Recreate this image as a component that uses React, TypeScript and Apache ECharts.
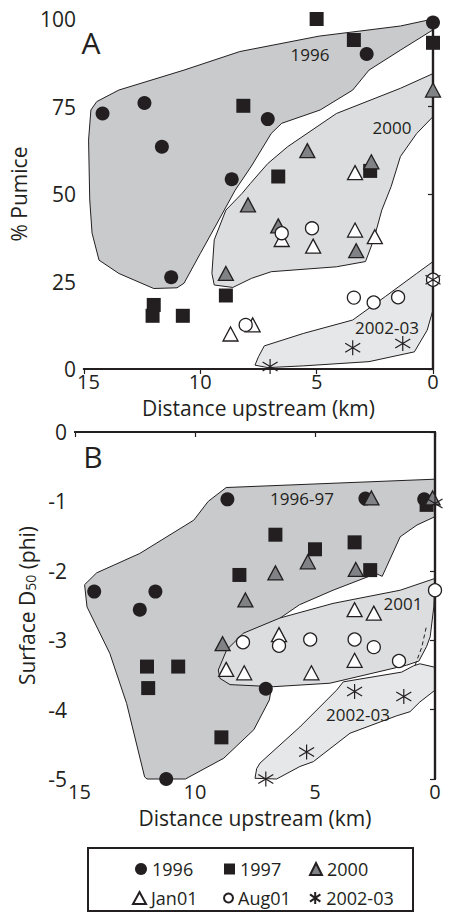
import React, { useEffect, useRef } from "react";
import * as echarts from "echarts";

const FONT = "'Open Sans', sans-serif";
const INK = "#231f20";
const DARK_FILL = "#c9cacc";
const MID_FILL = "#dcddde";
const LIGHT_FILL = "#e6e7e8";
const GRAY_TRI = "#808285";

// x ticks (km upstream), y ticks
const xTicks = [15, 10, 5, 0];
const pumiceTicks = [0, 25, 50, 75, 100];
const phiTicks = [-5, -4, -3, -2, -1, 0];

// ---------- Panel A: % pumice ----------
const a1996 = [[14.2, 73], [12.4, 76], [11.65, 63.5], [8.65, 54.2], [7.1, 71.4], [2.85, 90], [0, 99], [11.25, 26.2]];
const a1997 = [[5.0, 100], [3.4, 94], [0, 93.2], [8.15, 75.2], [6.65, 55], [2.7, 56.6], [12.0, 18.3], [12.05, 15.2], [10.75, 15.2], [8.9, 21]];
const a2000 = [[0, 79.7], [5.4, 62.4], [2.65, 59.2], [7.95, 46.9], [6.65, 40.9], [3.3, 33.8], [8.9, 27.3]];
const aJan01 = [[3.35, 56.1], [6.5, 37], [5.15, 35.1], [3.35, 39.7], [2.5, 37.8], [7.75, 12.6], [8.7, 10]];
const aAug01 = [[6.5, 38.8], [5.2, 40.2], [3.4, 20.4], [2.55, 19], [1.5, 20.5], [8.05, 12.6], [0, 25.5]];
const a2002 = [[7.0, 0.7], [3.45, 6.1], [1.3, 7.3], [0, 25.5]];

const env1996A = [[0, 100], [1.4, 98], [4.9, 95.1], [8.3, 90.7], [10.7, 85.4], [13.5, 79.7], [14.45, 76.4], [14.7, 74], [14.8, 65.4], [14.75, 48.3], [14.65, 38.8], [14.35, 31.1], [13.5, 27.3], [12.0, 23], [11.0, 23.2], [10.7, 24.5], [10.0, 33], [9.2, 42.6], [8.5, 51.1], [7.8, 58], [6.95, 67.3], [6.5, 70.2], [4.85, 74], [3.45, 79.7], [2.75, 85.4], [1.4, 91.1], [0, 96.9]];
const env2000A = [[0, 84.4], [1.4, 80.2], [4.15, 73], [6.25, 63.5], [7.1, 58.7], [7.85, 53], [8.2, 50.2], [8.9, 45.4], [9.4, 36.9], [9.5, 27.3], [9.4, 24], [8.6, 23.3], [7.8, 25.9], [6.95, 27.8], [4.15, 29.2], [2.9, 30.7], [2.55, 36.9], [2.2, 45.4], [1.8, 52.1], [1.4, 60.7], [0.7, 67.3], [0, 72.1]];
const env2002A = [[0, 30.7], [0.7, 27.3], [2.05, 20.7], [3.45, 14], [5.55, 10.2], [7.25, 6.6], [7.5, 3.5], [7.65, 1.1], [7.1, 0.4], [5.55, 0.9], [2.75, 2.1], [0.8, 4.9], [0.25, 11.1], [0, 16.9]];

// ---------- Panel B: surface D50 (phi) ----------
const b1996 = [[8.65, -0.97], [2.9, -0.96], [0.45, -0.97], [14.2, -2.3], [11.65, -2.3], [12.3, -2.56], [7.05, -3.7], [11.2, -5]];
const b1997 = [[0.35, -1.05], [6.65, -1.48], [5.0, -1.69], [3.35, -1.59], [2.7, -1.99], [8.15, -2.06], [12.0, -3.38], [10.7, -3.38], [11.95, -3.69], [8.9, -4.4]];
const b2000 = [[2.65, -0.95], [0.1, -0.95], [5.3, -1.87], [3.3, -1.98], [6.65, -2.03], [7.9, -2.42], [8.85, -3.05]];
const bJan01 = [[3.35, -2.56], [2.55, -2.61], [6.5, -2.92], [3.35, -3.29], [8.7, -3.42], [7.95, -3.47], [5.15, -3.47]];
const bAug01 = [[0, -2.28], [8.0, -3.03], [6.5, -3.08], [5.2, -2.99], [3.35, -2.99], [2.55, -3.1], [1.5, -3.3]];
const b2002 = [[0, -1.03], [3.35, -3.74], [1.3, -3.81], [5.35, -4.61], [7.05, -5]];

const env1996B = [[0, -0.68], [8.7, -0.8], [9.45, -1.0], [10.05, -1.27], [12.3, -1.75], [14.1, -2.03], [14.6, -2.2], [14.5, -2.52], [13.55, -3.19], [12.85, -3.91], [12.1, -4.97], [12.0, -5], [10.4, -5], [8.8, -4.7], [7.55, -4.29], [6.9, -3.86], [6.8, -3.65], [6.6, -3.2], [6.45, -2.68], [5.65, -2.49], [4.25, -2.28], [2.45, -2.04], [2.2, -2.08], [1.45, -1.51], [0.75, -1.34], [0, -1.22]];
const env2001B = [[0, -2.11], [1.45, -2.28], [4.25, -2.47], [6.46, -2.68], [7.99, -2.9], [8.68, -3.14], [9.03, -3.43], [8.96, -3.55], [8.54, -3.64], [6.74, -3.67], [4.38, -3.62], [1.18, -3.36], [0.67, -3.3], [0.35, -3.09], [0.2, -2.95], [0.05, -2.52]];
const dash2001B = [[0.37, -2.82], [0.55, -3.1], [0.83, -3.36]];
const env2002B = [[0, -3.39], [0.63, -3.34], [0.9, -3.37], [1.39, -3.46], [3.82, -3.6], [4.1, -3.72], [5.63, -4.25], [7.29, -4.77], [7.43, -4.85], [7.5, -4.99], [6.6, -5], [5.63, -4.82], [5.07, -4.75], [3.54, -4.34], [1.6, -4.09], [1.04, -4.03], [0.63, -3.89], [0, -3.72]];

const legendRow1 = ["1996", "1997", "2000"];
const legendRow2 = ["Jan01", "Aug01", "2002-03"];

const ASTERISK = "path://M0,-10L0,10M-8.66,-6L8.66,6M-8.66,6L8.66,-6";

function envelope(verts: number[][], fill: string, xi: number, yi: number) {
  return {
    type: "custom",
    xAxisIndex: xi,
    yAxisIndex: yi,
    data: verts,
    z: 1,
    silent: true,
    clip: false,
    renderItem: (p: any, api: any) =>
      p.dataIndex === 0
        ? {
            type: "polygon",
            shape: { points: verts.map((v) => api.coord(v)) },
            style: { fill, stroke: INK, lineWidth: 1 },
          }
        : null,
  };
}

function dashed(verts: number[][], xi: number, yi: number) {
  return {
    type: "custom",
    xAxisIndex: xi,
    yAxisIndex: yi,
    data: verts,
    z: 2,
    silent: true,
    clip: false,
    renderItem: (p: any, api: any) =>
      p.dataIndex === 0
        ? {
            type: "polyline",
            shape: { points: verts.map((v) => api.coord(v)) },
            style: { fill: "none", stroke: INK, lineWidth: 1, lineDash: [4, 3] },
          }
        : null,
  };
}

type Sty = { symbol: string; size: number | number[]; color: string; border: number };
const STY: Record<string, Sty> = {
  "1996": { symbol: "circle", size: 14, color: INK, border: 0 },
  "1997": { symbol: "rect", size: 14, color: INK, border: 0 },
  "2000": { symbol: "triangle", size: [15, 14], color: GRAY_TRI, border: 1.3 },
  Jan01: { symbol: "triangle", size: [15, 14], color: "#ffffff", border: 1.3 },
  Aug01: { symbol: "circle", size: 13, color: "#ffffff", border: 1.3 },
  "2002-03": { symbol: ASTERISK, size: 15, color: INK, border: 1.2 },
};

function pts(name: string, data: number[][], xi: number, yi: number) {
  const s = STY[name];
  return {
    type: "scatter",
    name,
    data,
    xAxisIndex: xi,
    yAxisIndex: yi,
    symbol: s.symbol,
    symbolSize: s.size,
    itemStyle: { color: s.color, borderColor: INK, borderWidth: s.border, opacity: 1 },
    z: 5,
    clip: false,
    silent: true,
  };
}

const tickLabel = { color: INK, fontSize: 20, fontFamily: FONT };
const nameStyle = { color: INK, fontSize: 21, fontFamily: FONT };

function xAxes(gridIndex: number, nameGap: number) {
  return [
    {
      gridIndex,
      type: "value",
      inverse: true,
      min: 0,
      max: 15,
      interval: 5,
      position: "bottom",
      z: 3,
      axisLine: { show: true, lineStyle: { color: INK, width: 2.2 } },
      axisTick: { show: false },
      splitLine: { show: false },
      axisLabel: {
        ...tickLabel,
        margin: 2,
        formatter: (v: number) => (v === 15 ? "{p|15}" : xTicks.includes(v) ? String(v) : ""),
        rich: { p: { ...tickLabel, padding: [0, 0, 0, 9] } },
      },
      name: "Distance upstream (km)",
      nameLocation: "middle",
      nameGap,
      nameTextStyle: nameStyle,
    },
    {
      gridIndex,
      type: "value",
      inverse: true,
      min: 0,
      max: 15,
      interval: 5,
      position: "top",
      z: 3,
      axisLine: { show: true, lineStyle: { color: INK, width: 2.2 } },
      axisTick: { show: true, inside: true, length: 5, lineStyle: { color: INK, width: 1.2 } },
      splitLine: { show: false },
      axisLabel: { show: false },
    },
  ];
}

function yAxes(gridIndex: number, min: number, max: number, interval: number, ticks: number[], name: any, nameGap: number, rich?: any) {
  return [
    {
      gridIndex,
      type: "value",
      min,
      max,
      interval,
      position: "left",
      z: 3,
      axisLine: { show: true, lineStyle: { color: INK, width: 2.2 } },
      axisTick: { show: false },
      splitLine: { show: false },
      axisLabel: { ...tickLabel, fontSize: 21, margin: 8, formatter: (v: number) => (ticks.includes(v) ? String(v) : "") },
      name,
      nameLocation: "middle",
      nameGap,
      nameTextStyle: { ...nameStyle, rich },
    },
    {
      gridIndex,
      type: "value",
      min,
      max,
      interval,
      position: "right",
      z: 3,
      axisLine: { show: true, lineStyle: { color: INK, width: 2.2 } },
      axisTick: { show: true, inside: true, length: 5, lineStyle: { color: INK, width: 1.2 } },
      splitLine: { show: false },
      axisLabel: { show: false },
    },
  ];
}

function legendItem(name: string, left: number, top: number, w: number, h: number) {
  return {
    data: [name],
    left,
    top,
    padding: 0,
    itemWidth: w,
    itemHeight: h,
    selectedMode: false,
    textStyle: { color: INK, fontSize: 18, fontFamily: FONT },
  };
}

function label(text: string, x: number, y: number, size: number) {
  return {
    type: "text",
    x,
    y,
    z: 10,
    silent: true,
    style: { text, fill: INK, fontSize: size, fontFamily: FONT, align: "center", verticalAlign: "middle" },
  };
}

export default function App() {
  const ref = useRef<HTMLDivElement>(null);
  useEffect(() => {
    if (!ref.current) return;
    const chart = echarts.init(ref.current, null, { renderer: "svg" });
    const option: any = {
      animation: false,
      backgroundColor: "#ffffff",
      grid: [
        { left: 74, top: 19, width: 359, height: 350 },
        { left: 75, top: 432, width: 360, height: 347 },
      ],
      xAxis: [...xAxes(0, 28), ...xAxes(1, 28)],
      yAxis: [
        ...yAxes(0, 0, 100, 25, pumiceTicks, "% Pumice", 37),
        ...yAxes(1, -5, 0, 1, phiTicks, "Surface D{s|50} (phi)", 25, {
          s: { fontSize: 14, fontFamily: FONT, color: INK, verticalAlign: "bottom" },
        }),
      ],
      legend: [
        legendItem(legendRow1[0], 135, 860, 12, 12),
        legendItem(legendRow1[1], 224, 860, 11, 11),
        legendItem(legendRow1[2], 309, 860, 12, 12),
        legendItem(legendRow2[0], 132, 889, 13, 12),
        legendItem(legendRow2[1], 223, 889, 9, 9),
        legendItem(legendRow2[2], 309, 889, 12, 12),
      ],
      graphic: [
        {
          type: "rect",
          shape: { x: 88, y: 848, width: 325, height: 63 },
          style: { fill: "none", stroke: INK, lineWidth: 2 },
          z: 10,
          silent: true,
        },
        label("A", 91, 42, 30),
        label("B", 93, 456, 30),
        label("1996", 310, 54, 17),
        label("2000", 392, 127, 17),
        label("2002-03", 387, 327, 17),
        label("1996-97", 302, 498, 17),
        label("2001", 403, 603, 17),
        label("2002-03", 358, 714, 17),
      ],
      series: [
        envelope(env1996A, DARK_FILL, 0, 0),
        envelope(env2000A, MID_FILL, 0, 0),
        envelope(env2002A, LIGHT_FILL, 0, 0),
        envelope(env1996B, DARK_FILL, 2, 2),
        envelope(env2002B, LIGHT_FILL, 2, 2),
        envelope(env2001B, MID_FILL, 2, 2),
        dashed(dash2001B, 2, 2),
        pts("1996", a1996, 0, 0),
        pts("1997", a1997, 0, 0),
        pts("2000", a2000, 0, 0),
        pts("Jan01", aJan01, 0, 0),
        pts("Aug01", aAug01, 0, 0),
        pts("2002-03", a2002, 0, 0),
        pts("1996", b1996, 2, 2),
        pts("1997", b1997, 2, 2),
        pts("2000", b2000, 2, 2),
        pts("Jan01", bJan01, 2, 2),
        pts("Aug01", bAug01, 2, 2),
        pts("2002-03", b2002, 2, 2),
      ],
    };
    chart.setOption(option);
    return () => chart.dispose();
  }, []);
  return (
    <div
      ref={ref}
      style={{ position: "fixed", left: 0, top: 0, width: 450, height: 913, background: "#fff" }}
    />
  );
}
